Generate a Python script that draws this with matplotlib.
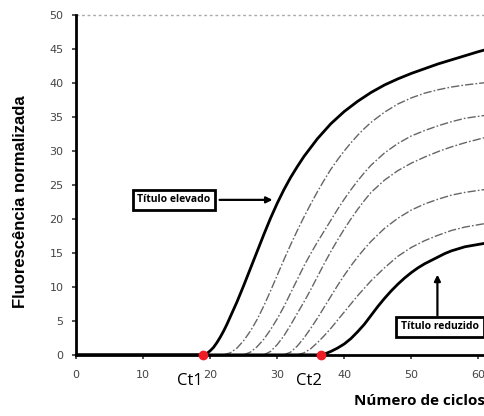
import matplotlib
matplotlib.use('Agg')
import matplotlib.pyplot as plt

# amplification curves (cycle, normalised fluorescence)
high_x = [0, 19, 19.5, 20, 20.5, 21, 21.5, 22, 22.5, 23, 24, 25, 26, 27, 28, 29, 30, 31,
          32, 33, 34, 35, 36, 37, 38, 39, 40, 42, 44, 46, 48, 50, 52, 54, 56, 58, 60, 61.5]
high_y = [0, 0, 0.2, 0.6, 1.1, 1.8, 2.6, 3.5, 4.5, 5.6, 7.8, 10.2, 12.7, 15.2, 17.7, 20.1,
          22.3, 24.3, 26.1, 27.7, 29.2, 30.5, 31.8, 32.9, 34.0, 34.9, 35.8, 37.3, 38.6,
          39.7, 40.6, 41.4, 42.1, 42.8, 43.4, 44.0, 44.6, 45.0]

mid1_x = [22, 23, 24, 25, 26, 27, 28, 29, 30, 31, 32, 33, 34, 35, 36, 37, 38, 39, 40, 41,
          42, 43, 44, 46, 48, 50, 52, 54, 56, 58, 61.5]
mid1_y = [0, 0.3, 1.0, 2.1, 3.5, 5.2, 7.2, 9.4, 11.7, 14.0, 16.2, 18.3, 20.3, 22.2, 24.0,
          25.7, 27.3, 28.7, 30.0, 31.2, 32.3, 33.3, 34.2, 35.7, 36.9, 37.8, 38.5, 39.0,
          39.4, 39.7, 40.1]

mid2_x = [25, 26, 27, 28, 29, 30, 31, 32, 33, 34, 35, 36, 37, 38, 39, 40, 41, 42, 43, 44,
          46, 48, 50, 52, 54, 56, 58, 61.5]
mid2_y = [0, 0.4, 1.2, 2.3, 3.7, 5.3, 7.1, 9.1, 11.1, 13.1, 14.9, 16.6, 18.2, 19.8, 21.4,
          22.9, 24.3, 25.6, 26.8, 27.9, 29.7, 31.1, 32.2, 33.0, 33.7, 34.3, 34.8, 35.3]

mid3_x = [28, 29, 30, 31, 32, 33, 34, 35, 36, 37, 38, 39, 40, 41, 42, 43, 44, 46, 48, 50,
          52, 54, 56, 58, 61.5]
mid3_y = [0, 0.5, 1.5, 2.8, 4.4, 6.1, 7.8, 9.6, 11.5, 13.4, 15.2, 16.9, 18.5, 20.0, 21.4,
          22.7, 23.9, 25.7, 27.1, 28.2, 29.1, 29.9, 30.6, 31.2, 32.1]

mid4_x = [31, 32, 33, 34, 35, 36, 37, 38, 39, 40, 41, 42, 43, 44, 46, 48, 50, 52, 54, 56,
          58, 61.5]
mid4_y = [0, 0.4, 1.3, 2.5, 3.9, 5.4, 7.0, 8.6, 10.2, 11.7, 13.1, 14.4, 15.6, 16.7, 18.6,
          20.1, 21.3, 22.2, 22.9, 23.5, 23.9, 24.4]

mid5_x = [33, 34, 35, 36, 37, 38, 39, 40, 41, 42, 43, 44, 46, 48, 50, 52, 54, 56, 58, 61.5]
mid5_y = [0, 0.3, 0.9, 1.8, 2.8, 3.9, 5.1, 6.3, 7.5, 8.7, 9.8, 10.9, 12.8, 14.5, 15.8,
          16.8, 17.6, 18.3, 18.8, 19.4]

low_x = [0, 36.6, 37, 37.5, 38, 39, 40, 41, 42, 43, 44, 45, 46, 47, 48, 49, 50, 51, 52,
         53, 54, 55, 56, 58, 61.5]
low_y = [0, 0, 0.1, 0.3, 0.5, 1.0, 1.6, 2.4, 3.4, 4.5, 5.8, 7.1, 8.3, 9.4, 10.4, 11.3,
         12.1, 12.8, 13.4, 13.9, 14.4, 14.9, 15.3, 15.9, 16.5]

ct_x = [18.9, 36.6]
ct_labels = ['Ct1', 'Ct2']
x_ticks = [0, 10, 20, 30, 40, 50, 60]
y_ticks = [0, 5, 10, 15, 20, 25, 30, 35, 40, 45, 50]

fig = plt.figure(figsize=(4.85, 4.16), dpi=100)
ax = fig.add_axes([0.157, 0.147, 0.843, 0.817])

dashdot = (0, (6, 1.5, 1.2, 1.5))
for xs, ys in [(mid1_x, mid1_y), (mid2_x, mid2_y), (mid3_x, mid3_y),
               (mid4_x, mid4_y), (mid5_x, mid5_y)]:
    ax.plot(xs, ys, color='#666666', lw=1.0, linestyle=dashdot)

ax.plot(high_x, high_y, color='black', lw=2.0, solid_capstyle='round')
ax.plot(low_x, low_y, color='black', lw=2.0, solid_capstyle='round')

# dotted line along the top
ax.axhline(50, color='#aaaaaa', lw=1.0, linestyle=(0, (2, 2)), clip_on=False)

ax.plot(ct_x, [0, 0], 'o', color='#ee1c25', ms=6, zorder=5, clip_on=False)
ax.text(17.0, -3.9, ct_labels[0], ha='center', va='center', fontsize=12,
        family='Open Sans', clip_on=False)
ax.text(34.8, -3.9, ct_labels[1], ha='center', va='center', fontsize=12,
        family='Open Sans', clip_on=False)

box = dict(boxstyle='square,pad=0.45', fc='white', ec='black', lw=2.0)
ax.text(14.6, 22.8, 'Título elevado', ha='center', va='center', fontsize=7.5,
        weight='bold', family='Open Sans', bbox=box)
ax.annotate('', xy=(29.3, 22.8), xytext=(21.4, 22.8),
            arrowprops=dict(arrowstyle='-|>', color='black', lw=1.6,
                            mutation_scale=9, shrinkA=0, shrinkB=0))
ax.text(54.3, 4.1, 'Título reduzido', ha='center', va='center', fontsize=7.5,
        weight='bold', family='Open Sans', bbox=box, clip_on=False)
ax.annotate('', xy=(53.9, 11.8), xytext=(53.9, 5.8),
            arrowprops=dict(arrowstyle='-|>', color='black', lw=1.6,
                            mutation_scale=9, shrinkA=0, shrinkB=0))

ax.set_xlim(0, 61)
ax.set_ylim(0, 50)
ax.set_xticks(x_ticks)
ax.set_yticks(y_ticks)
ax.tick_params(labelsize=8, labelcolor='#444444', length=3, width=1.2, color='#333333')
ax.tick_params(axis='x', pad=8)
ax.tick_params(axis='y', pad=6)
for side in ['top', 'right']:
    ax.spines[side].set_visible(False)
for side in ['left', 'bottom']:
    ax.spines[side].set_linewidth(2.0)

fig.text(0.043, 0.514, 'Fluorescência normalizada', rotation=90, ha='center', va='center',
         fontsize=12, weight='bold', family='Liberation Sans')
fig.text(1.0, 0.037, 'Número de ciclos', ha='right', va='center',
         fontsize=11, weight='bold', family='Open Sans')

fig.savefig('out.png', dpi=100)
